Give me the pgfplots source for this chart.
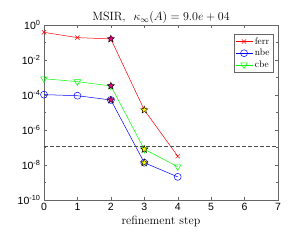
\documentclass[border=0pt]{standalone}
\usepackage{fontspec}
\usepackage{pgfplots}
\pgfplotsset{compat=1.18}
\newfontfamily\arialfont{Liberation Sans}
\pgfdeclareplotmark{fstar}{%
  \pgfpathmoveto{\pgfpointpolar{90}{\pgfplotmarksize}}%
  \pgfpathlineto{\pgfpointpolar{126}{0.42\pgfplotmarksize}}%
  \pgfpathlineto{\pgfpointpolar{162}{\pgfplotmarksize}}%
  \pgfpathlineto{\pgfpointpolar{198}{0.42\pgfplotmarksize}}%
  \pgfpathlineto{\pgfpointpolar{234}{\pgfplotmarksize}}%
  \pgfpathlineto{\pgfpointpolar{270}{0.42\pgfplotmarksize}}%
  \pgfpathlineto{\pgfpointpolar{306}{\pgfplotmarksize}}%
  \pgfpathlineto{\pgfpointpolar{342}{0.42\pgfplotmarksize}}%
  \pgfpathlineto{\pgfpointpolar{18}{\pgfplotmarksize}}%
  \pgfpathlineto{\pgfpointpolar{54}{0.42\pgfplotmarksize}}%
  \pgfpathclose\pgfusepathqfillstroke}
\begin{document}
\begin{tikzpicture}
\begin{axis}[
  at={(0,0)}, anchor=south west,
  scale only axis, width=234pt, height=175pt,
  ymode=log, xmin=0, xmax=7, ymin=1e-10, ymax=1,
  xtick={0,1,...,7},
  ytick={1e-10,1e-8,1e-6,1e-4,1e-2,1},
  yticklabels={10\textsuperscript{-10},10\textsuperscript{-8},10\textsuperscript{-6},10\textsuperscript{-4},10\textsuperscript{-2},10\textsuperscript{0}},
  minor ytick={1e-9,1e-7,1e-5,1e-3,1e-1},
  tick label style={font=\arialfont\fontsize{10.5}{12}\selectfont},
  xticklabel={\arialfont\pgfmathprintnumber[assume math mode=true]{\tick}},
  tick align=inside, tick pos=both,
  major tick length=3pt, minor tick length=2pt,
  every tick/.style={black!60},
  axis line style={black!60, line width=0.5pt},
  title={MSIR,\ \ $\kappa_\infty(A)=9.0e+04$},
  title style={font=\fontsize{12}{14}\selectfont, yshift=-8pt},
  xlabel={refinement step},
  xlabel style={font=\fontsize{12}{14}\selectfont, yshift=2pt},
  legend style={at={(0.98,0.95)}, anchor=north east, font=\fontsize{9.5}{11}\selectfont,
    draw=black!60, inner sep=1.5pt, row sep=-0.5pt, cells={anchor=west}},
  legend cell align=left,
]
\addplot[red, mark=x, mark size=3pt, line width=0.5pt] coordinates {(0,0.38)(1,0.19)(2,0.16)(3,1.4e-5)(4,3.2e-8)};
\addlegendentry{ferr}
\addplot[blue, mark=o, mark size=3.5pt, line width=0.5pt] coordinates {(0,1.05e-4)(1,9.1e-5)(2,5.2e-5)(3,1.35e-8)(4,2.1e-9)};
\addlegendentry{nbe}
\addplot[green, mark=triangle, mark options={rotate=180}, mark size=3.8pt, line width=0.5pt] coordinates {(0,8.5e-4)(1,5.8e-4)(2,3.3e-4)(3,7.9e-8)(4,8e-9)};
\addlegendentry{cbe}
\addplot[forget plot, black!70, dashed, line width=0.8pt, dash pattern=on 4pt off 2pt] coordinates {(0,1.15e-7)(7,1.15e-7)};
\addplot[forget plot, only marks, mark=fstar, mark size=3.8pt, draw=black, fill=magenta, line width=0.4pt] coordinates {(2,0.16)(2,5.2e-5)(2,3.3e-4)};
\addplot[forget plot, only marks, mark=fstar, mark size=3.8pt, draw=black, fill=yellow, line width=0.4pt] coordinates {(3,1.4e-5)(3,1.35e-8)(3,7.9e-8)};
\end{axis}
\path (-44pt,-40pt) rectangle (248pt,200pt);
\end{tikzpicture}
\end{document}
